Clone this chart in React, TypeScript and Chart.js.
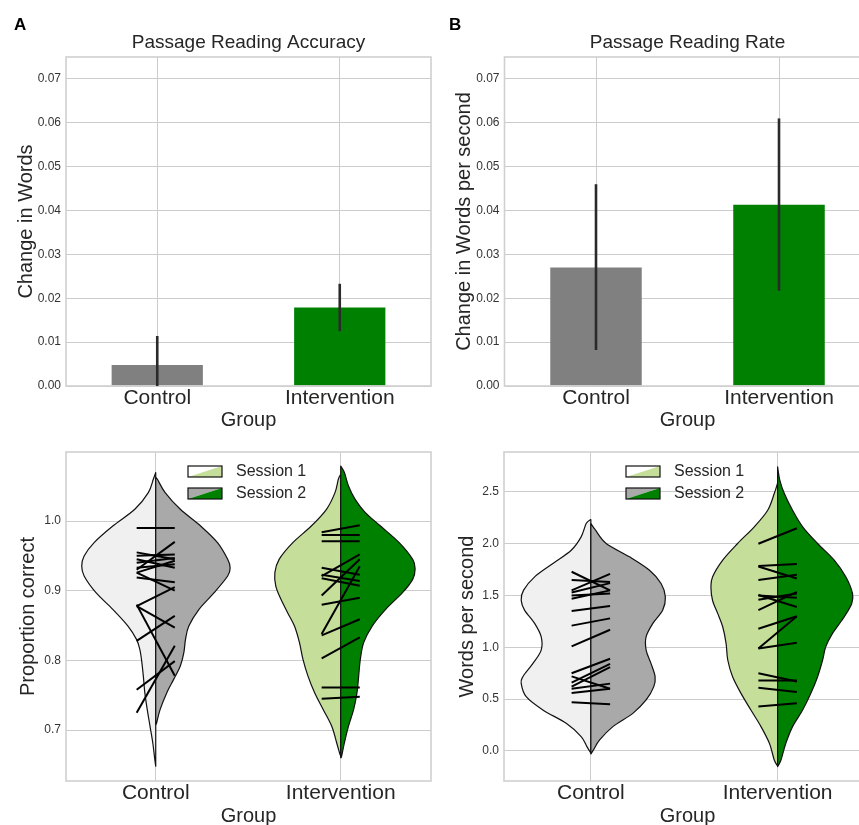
import React, { useEffect, useRef } from "react";
import { Chart, registerables } from "chart.js";

Chart.register(...registerables);

const FONT = "'Liberation Sans', Arial, Helvetica, sans-serif";
const TEXT = "#262626";
const GRID = "#cccccc";

// ---------- data ----------
const groups = ["Control", "Intervention"];
const sessions = ["Session 1", "Session 2"];

// Top bar charts (mean change and error bar limits)
const accuracyMeans = [0.0048, 0.0179];
const accuracyErrLow = [0.0, 0.0125];
const accuracyErrHigh = [0.0114, 0.0233];
const rateMeans = [0.0270, 0.0413];
const rateErrLow = [0.0082, 0.0217];
const rateErrHigh = [0.0460, 0.0610];
const barTicks = [0, 0.01, 0.02, 0.03, 0.04, 0.05, 0.06, 0.07];
const propTicks = [0.7, 0.8, 0.9, 1.0];
const wpsTicks = [0, 0.5, 1.0, 1.5, 2.0, 2.5];

// Violin outlines: [value, half-width (category units)]
const accCtrlS1 = [[1.0695,0],[1.0599,0.013],[1.0407,0.040],[1.0168,0.113],[0.9928,0.232],[0.9690,0.333],[0.9498,0.387],[0.9354,0.400],[0.9211,0.387],[0.8972,0.323],[0.8733,0.232],[0.8493,0.150],[0.8302,0.104],[0.8158,0.086],[0.8015,0.077],[0.7775,0.067],[0.7537,0.059],[0.7297,0.046],[0.7058,0.031],[0.6819,0.016],[0.6580,0.005],[0.6483,0]];
const accCtrlS2 = [[1.0623,0],[1.0599,0.009],[1.0407,0.051],[1.0168,0.133],[0.9928,0.243],[0.9690,0.334],[0.9450,0.389],[0.9331,0.402],[0.9211,0.389],[0.8972,0.316],[0.8733,0.234],[0.8493,0.179],[0.8302,0.161],[0.8111,0.152],[0.7919,0.133],[0.7728,0.097],[0.7537,0.060],[0.7297,0.024],[0.7106,0.005],[0.7080,0]];
const accIntS1 = [[1.0670,0],[1.0599,0.013],[1.0407,0.031],[1.0168,0.077],[0.9928,0.159],[0.9690,0.259],[0.9450,0.333],[0.9259,0.356],[0.9067,0.351],[0.8876,0.323],[0.8685,0.287],[0.8493,0.250],[0.8255,0.223],[0.8015,0.204],[0.7775,0.177],[0.7537,0.141],[0.7297,0.095],[0.7058,0.049],[0.6819,0.022],[0.6651,0.004],[0.6627,0]];
const accIntS2 = [[1.0789,0],[1.0695,0.020],[1.0502,0.042],[1.0311,0.078],[1.0121,0.133],[0.9928,0.215],[0.9690,0.316],[0.9450,0.389],[0.9307,0.402],[0.9163,0.389],[0.8972,0.334],[0.8733,0.243],[0.8493,0.170],[0.8255,0.124],[0.8015,0.106],[0.7775,0.097],[0.7537,0.088],[0.7297,0.070],[0.7058,0.042],[0.6819,0.020],[0.6627,0.005],[0.6604,0]];
const rateCtrlS1 = [[2.234,0],[2.195,0.025],[2.067,0.052],[1.938,0.105],[1.810,0.203],[1.681,0.301],[1.553,0.360],[1.456,0.373],[1.360,0.355],[1.231,0.301],[1.103,0.266],[0.974,0.266],[0.845,0.310],[0.717,0.364],[0.653,0.373],[0.524,0.346],[0.396,0.257],[0.267,0.132],[0.139,0.052],[0.042,0.021],[-0.022,0]];
const rateCtrlS2 = [[2.196,0],[2.131,0.025],[2.003,0.082],[1.874,0.207],[1.745,0.314],[1.617,0.376],[1.488,0.399],[1.360,0.385],[1.231,0.332],[1.103,0.296],[0.974,0.296],[0.845,0.322],[0.717,0.344],[0.621,0.337],[0.492,0.296],[0.363,0.225],[0.235,0.118],[0.106,0.047],[0.010,0.014],[-0.029,0]];
const rateIntS1 = [[2.587,0],[2.485,0.018],[2.324,0.053],[2.164,0.125],[2.003,0.214],[1.842,0.294],[1.681,0.348],[1.578,0.357],[1.450,0.348],[1.328,0.321],[1.199,0.294],[1.039,0.276],[0.878,0.267],[0.717,0.241],[0.556,0.196],[0.395,0.143],[0.235,0.089],[0.074,0.044],[-0.087,0.018],[-0.145,0]];
const rateIntS2 = [[2.742,0],[2.613,0.012],[2.485,0.036],[2.324,0.080],[2.164,0.134],[2.003,0.214],[1.842,0.303],[1.681,0.365],[1.520,0.401],[1.424,0.397],[1.296,0.357],[1.135,0.294],[1.007,0.258],[0.878,0.241],[0.717,0.214],[0.556,0.178],[0.395,0.134],[0.235,0.080],[0.074,0.044],[-0.087,0.018],[-0.151,0]];

// Paired subject values: [session 1, session 2]
const accCtrlPairs = [[0.990,0.990],[0.930,0.970],[0.955,0.945],[0.950,0.952],[0.945,0.933],[0.940,0.947],[0.933,0.938],[0.926,0.943],[0.919,0.912],[0.926,0.900],[0.878,0.905],[0.880,0.778],[0.878,0.847],[0.828,0.864],[0.758,0.799],[0.725,0.821]];
const accIntPairs = [[0.984,0.994],[0.980,0.980],[0.971,0.971],[0.921,0.952],[0.933,0.923],[0.923,0.914],[0.893,0.945],[0.880,0.890],[0.836,0.859],[0.838,0.935],[0.803,0.833],[0.761,0.761],[0.745,0.748],[0.918,0.907]];
const rateCtrlPairs = [[1.73,1.55],[1.55,1.71],[1.65,1.63],[1.53,1.62],[1.50,1.52],[1.47,1.55],[1.35,1.40],[1.21,1.28],[1.01,1.17],[0.75,0.89],[0.72,0.60],[0.66,0.84],[0.62,0.81],[0.56,0.60],[0.47,0.45],[0.60,0.65]];
const rateIntPairs = [[2.00,2.15],[1.785,1.805],[1.78,1.665],[1.65,1.70],[1.505,1.39],[1.36,1.535],[1.50,1.48],[1.46,1.52],[1.18,1.30],[0.99,1.30],[0.99,1.045],[0.75,0.67],[0.68,0.68],[0.61,0.57],[0.43,0.46]];

// ---------- colours ----------
const barColors = ["#808080", "#008000"];
const s1Colors = ["#f0f0f0", "#c5df9b"];
const s2Colors = ["#a9a9a9", "#008000"];

// ---------- plugins ----------
function smoothTo(ctx: CanvasRenderingContext2D, pts: { x: number; y: number }[]) {
  ctx.lineTo(pts[0].x, pts[0].y);
  for (let i = 0; i < pts.length - 1; i++) {
    const p0 = pts[Math.max(i - 1, 0)];
    const p1 = pts[i];
    const p2 = pts[i + 1];
    const p3 = pts[Math.min(i + 2, pts.length - 1)];
    ctx.bezierCurveTo(
      p1.x + (p2.x - p0.x) / 6, p1.y + (p2.y - p0.y) / 6,
      p2.x - (p3.x - p1.x) / 6, p2.y - (p3.y - p1.y) / 6,
      p2.x, p2.y
    );
  }
}

type Half = { pos: number; side: number; outline: number[][]; color: string };

const violinPlugin = (halves: Half[]) => ({
  id: "violins",
  beforeDatasetsDraw(chart: any) {
    const { ctx, chartArea: a, scales } = chart;
    const x = scales.x, y = scales.y;
    ctx.save();
    ctx.beginPath();
    ctx.rect(a.left, a.top, a.right - a.left, a.bottom - a.top);
    ctx.clip();
    halves.forEach((h) => {
      const pts = h.outline.map(([v, w]) => ({
        x: x.getPixelForValue(h.pos + h.side * w),
        y: y.getPixelForValue(v),
      }));
      const cx = x.getPixelForValue(h.pos);
      ctx.beginPath();
      ctx.moveTo(cx, pts[0].y);
      smoothTo(ctx, pts);
      ctx.lineTo(cx, pts[pts.length - 1].y);
      ctx.closePath();
      ctx.fillStyle = h.color;
      ctx.fill();
      ctx.lineWidth = 1.2;
      ctx.lineJoin = "round";
      ctx.strokeStyle = "#111111";
      ctx.stroke();
    });
    ctx.restore();
  },
});

const framePlugin = {
  id: "frame",
  afterDatasetsDraw(chart: any) {
    const { ctx, chartArea: a } = chart;
    ctx.save();
    ctx.strokeStyle = "#d0d0d0";
    ctx.lineWidth = 1.6;
    ctx.strokeRect(a.left, a.top, a.right - a.left, a.bottom - a.top);
    ctx.restore();
  },
};

const panelTitlePlugin = (text: string) => ({
  id: "panelTitle",
  afterDraw(chart: any) {
    const { ctx, chartArea: a } = chart;
    ctx.save();
    ctx.font = `19px ${FONT}`;
    ctx.fillStyle = TEXT;
    ctx.textAlign = "center";
    ctx.textBaseline = "middle";
    ctx.fillText(text, (a.left + a.right) / 2, a.top - 14);
    ctx.restore();
  },
});

const errorBarPlugin = (low: number[], high: number[]) => ({
  id: "errbars",
  afterDatasetsDraw(chart: any) {
    const { ctx, scales } = chart;
    ctx.save();
    ctx.strokeStyle = "#2a2a2a";
    ctx.lineWidth = 2.6;
    low.forEach((l, i) => {
      const px = scales.x.getPixelForValue(i);
      ctx.beginPath();
      ctx.moveTo(px, scales.y.getPixelForValue(l));
      ctx.lineTo(px, scales.y.getPixelForValue(high[i]));
      ctx.stroke();
    });
    ctx.restore();
  },
});

const sessionLegendPlugin = {
  id: "sessionLegend",
  afterDraw(chart: any) {
    const { ctx, chartArea: a } = chart;
    const fills = [
      ["#ffffff", s1Colors[1]],
      [s2Colors[0], s2Colors[1]],
    ];
    ctx.save();
    sessions.forEach((label, k) => {
      const x0 = a.left + 122;
      const y0 = a.top + 14 + k * 22;
      const w = 34, h = 11;
      ctx.beginPath();
      ctx.moveTo(x0, y0); ctx.lineTo(x0 + w, y0); ctx.lineTo(x0, y0 + h); ctx.closePath();
      ctx.fillStyle = fills[k][0]; ctx.fill();
      ctx.beginPath();
      ctx.moveTo(x0 + w, y0); ctx.lineTo(x0 + w, y0 + h); ctx.lineTo(x0, y0 + h); ctx.closePath();
      ctx.fillStyle = fills[k][1]; ctx.fill();
      ctx.lineWidth = 1.2; ctx.strokeStyle = "#111111";
      ctx.strokeRect(x0, y0, w, h);
      ctx.fillStyle = TEXT;
      ctx.font = `16px ${FONT}`;
      ctx.textBaseline = "middle";
      ctx.textAlign = "left";
      ctx.fillText(label, a.left + 170, y0 + h / 2 + 0.5);
    });
    ctx.restore();
  },
};

// ---------- configs ----------
type Lay = { yWidth: number; yTitlePad: number; padRight: number; padTop: number; xHeight: number; xTitlePad: number };

function yAxis(title: string, ticksArr: number[], min: number, max: number, digits: number, lay: Lay) {
  return {
    min, max,
    grid: { color: GRID, lineWidth: 1, drawTicks: false },
    border: { display: false },
    ticks: { color: "#333333", font: { family: FONT, size: 12 }, padding: 5, callback: (v: any) => Number(v).toFixed(digits) },
    afterBuildTicks: (s: any) => { s.ticks = ticksArr.map((value) => ({ value })); },
    title: { display: true, text: title, color: TEXT, font: { family: FONT, size: 20 }, padding: { top: lay.yTitlePad, bottom: 0 } },
    afterFit: (s: any) => { s.width = lay.yWidth; },
  };
}

function xTitle(lay: Lay) {
  return { display: true, text: "Group", color: TEXT, font: { family: FONT, size: 20 }, padding: { top: 0, bottom: lay.xTitlePad } };
}

function barConfig(title: string, yTitle: string, means: number[], lo: number[], hi: number[], lay: Lay): any {
  return {
    type: "bar",
    data: {
      labels: groups,
      datasets: [{ data: means, backgroundColor: barColors, borderWidth: 0, barPercentage: 0.5, categoryPercentage: 1 }],
    },
    options: {
      animation: false, responsive: false, maintainAspectRatio: false,
      layout: { padding: { left: 0, right: lay.padRight, top: lay.padTop, bottom: 0 } },
      plugins: { legend: { display: false }, tooltip: { enabled: false }, title: { display: false } },
      scales: {
        x: {
          type: "category", offset: true,
          grid: { offset: false, color: GRID, lineWidth: 1, drawTicks: false },
          border: { display: false },
          ticks: { color: TEXT, font: { family: FONT, size: 21 }, padding: 0, maxRotation: 0, autoSkip: false },
          title: xTitle(lay),
          afterFit: (s: any) => { s.height = lay.xHeight; },
        },
        y: yAxis(yTitle, barTicks, 0, 0.075, 2, lay),
      },
    },
    plugins: [framePlugin, errorBarPlugin(lo, hi), panelTitlePlugin(title)],
  };
}

function violinConfig(yTitle: string, ticksArr: number[], yMin: number, yMax: number, digits: number, xMin: number, xMax: number,
  outlines: number[][][][], pairs: number[][][], lay: Lay): any {
  const halves: Half[] = [];
  outlines.forEach((pair, i) => {
    halves.push({ pos: i, side: -1, outline: pair[0], color: s1Colors[i] });
    halves.push({ pos: i, side: 1, outline: pair[1], color: s2Colors[i] });
  });
  const datasets: any[] = [];
  pairs.forEach((list, i) => {
    list.forEach(([a, b]) => {
      datasets.push({
        data: [{ x: i - 0.103, y: a }, { x: i + 0.103, y: b }],
        showLine: true, borderColor: "#000000", borderWidth: 2, pointRadius: 0, fill: false,
      });
    });
  });
  return {
    type: "scatter",
    data: { datasets },
    options: {
      animation: false, responsive: false, maintainAspectRatio: false,
      layout: { padding: { left: 0, right: lay.padRight, top: lay.padTop, bottom: 0 } },
      plugins: { legend: { display: false }, tooltip: { enabled: false } },
      scales: {
        x: {
          type: "linear", min: xMin, max: xMax,
          grid: { color: GRID, lineWidth: 1, drawTicks: false },
          border: { display: false },
          afterBuildTicks: (s: any) => { s.ticks = groups.map((_, i) => ({ value: i })); },
          ticks: { color: TEXT, font: { family: FONT, size: 21 }, padding: 0, maxRotation: 0, autoSkip: false, callback: (v: any) => groups[Math.round(Number(v))] },
          title: xTitle(lay),
          afterFit: (s: any) => { s.height = lay.xHeight; },
        },
        y: yAxis(yTitle, ticksArr, yMin, yMax, digits, lay),
      },
    },
    plugins: [violinPlugin(halves), framePlugin, sessionLegendPlugin],
  };
}

// ---------- components ----------
function ChartCanvas({ left, top, width, height, make }: { left: number; top: number; width: number; height: number; make: () => any }) {
  const ref = useRef<HTMLCanvasElement | null>(null);
  useEffect(() => {
    const chart = new Chart(ref.current as HTMLCanvasElement, make());
    return () => chart.destroy();
  }, []);
  return (
    <canvas ref={ref} width={width} height={height}
      style={{ position: "absolute", left, top, width, height }} />
  );
}

const layA: Lay = { yWidth: 66, yTitlePad: 14, padRight: 9, padTop: 57, xHeight: 54, xTitlePad: 7.5 };
const layB: Lay = { yWidth: 69.5, yTitlePad: 17.3, padRight: 9.5, padTop: 57, xHeight: 54, xTitlePad: 7.5 };
const layC: Lay = { yWidth: 66, yTitlePad: 16.6, padRight: 9, padTop: 22, xHeight: 59, xTitlePad: 12 };
const layD: Lay = { yWidth: 69, yTitlePad: 20.6, padRight: 9, padTop: 22, xHeight: 59, xTitlePad: 12 };

export default function App() {
  const letter: React.CSSProperties = {
    position: "absolute", fontFamily: FONT, fontWeight: "bold", fontSize: 17, lineHeight: "17px", color: "#000",
  };
  return (
    <div style={{ position: "fixed", left: 0, top: 0, width: 859, height: 825, overflow: "hidden", background: "#ffffff" }}>
      <ChartCanvas left={0} top={0} width={440} height={440}
        make={() => barConfig("Passage Reading Accuracy", "Change in Words", accuracyMeans, accuracyErrLow, accuracyErrHigh, layA)} />
      <ChartCanvas left={435} top={0} width={445} height={440}
        make={() => barConfig("Passage Reading Rate", "Change in Words per second", rateMeans, rateErrLow, rateErrHigh, layB)} />
      <ChartCanvas left={0} top={430} width={440} height={410}
        make={() => violinConfig("Proportion correct", propTicks, 0.627, 1.099, 1, -0.485, 1.488,
          [[accCtrlS1, accCtrlS2], [accIntS1, accIntS2]], [accCtrlPairs, accIntPairs], layC)} />
      <ChartCanvas left={435} top={430} width={445} height={410}
        make={() => violinConfig("Words per second", wpsTicks, -0.29, 2.886, 1, -0.465, 1.5,
          [[rateCtrlS1, rateCtrlS2], [rateIntS1, rateIntS2]], [rateCtrlPairs, rateIntPairs], layD)} />
      <div style={{ ...letter, left: 14, top: 16 }}>A</div>
      <div style={{ ...letter, left: 449, top: 16 }}>B</div>
    </div>
  );
}
